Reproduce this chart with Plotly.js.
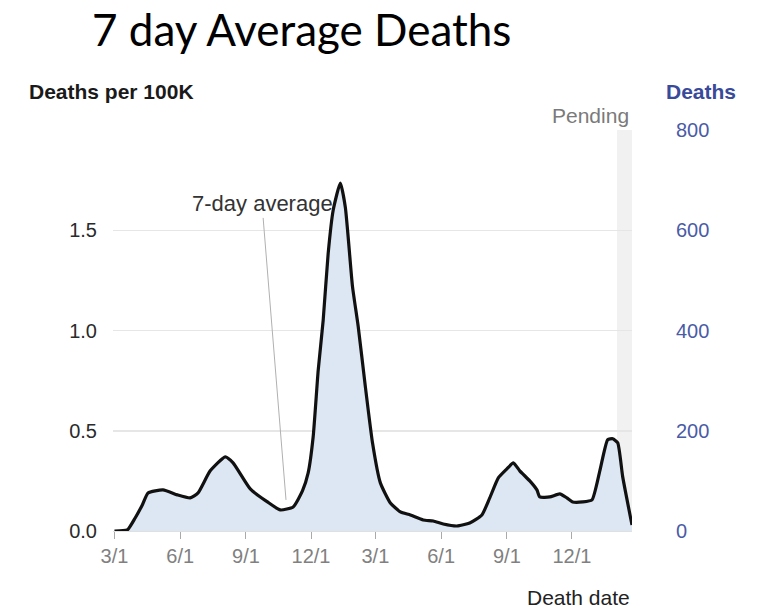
<!DOCTYPE html>
<html>
<head>
<meta charset="utf-8">
<script src="https://cdn.plot.ly/plotly-3.0.1.min.js"></script>
<style>html,body{margin:0;padding:0;background:#fff;}#chart{width:766px;height:608px;}</style>
</head>
<body>
<div id="chart"></div>
<script>
// 7-day average deaths per 100K
const dates = [
  "2020-03-01","2020-03-19","2020-03-30","2020-04-09","2020-04-17","2020-05-08","2020-05-28",
  "2020-06-15","2020-06-26","2020-07-13","2020-08-03","2020-08-14","2020-09-07","2020-10-01",
  "2020-10-19","2020-11-06","2020-11-19","2020-11-27","2020-12-04","2020-12-11","2020-12-18",
  "2020-12-25","2021-01-01","2021-01-11","2021-01-18","2021-01-28","2021-02-05","2021-02-15",
  "2021-02-25","2021-03-08","2021-03-22","2021-04-05","2021-04-19","2021-05-07","2021-05-21",
  "2021-06-04","2021-06-23","2021-07-11","2021-07-28","2021-08-08","2021-08-20","2021-09-01",
  "2021-09-10","2021-09-19","2021-10-03","2021-10-13","2021-10-17","2021-10-31","2021-11-14",
  "2021-11-24","2021-12-02","2021-12-16","2021-12-29","2022-01-09","2022-01-20","2022-01-27",
  "2022-02-03","2022-02-10","2022-02-23"
];
const avgPer100K = [
  0.0,0.005,0.065,0.13,0.19,0.205,0.18,
  0.165,0.19,0.30,0.37,0.34,0.21,0.145,
  0.105,0.12,0.20,0.29,0.47,0.80,1.05,
  1.385,1.60,1.735,1.615,1.22,1.02,0.72,
  0.44,0.24,0.14,0.095,0.08,0.055,0.05,
  0.035,0.025,0.04,0.08,0.165,0.265,0.31,
  0.34,0.30,0.25,0.205,0.17,0.17,0.185,
  0.165,0.145,0.145,0.155,0.30,0.455,0.46,
  0.44,0.27,0.03
];
const leftTicks = [0, 0.5, 1.0, 1.5];
const leftTickText = ["0.0", "0.5", "1.0", "1.5"];
const rightTicks = [0, 200, 400, 600, 800];
const xTickDates = ["2020-03-01","2020-06-01","2020-09-01","2020-12-01","2021-03-01","2021-06-01","2021-09-01","2021-12-01"];
const xTickText = ["3/1","6/1","9/1","12/1","3/1","6/1","9/1","12/1"];
const pendingStart = "2022-02-02";
const xRange = ["2020-02-28", "2022-02-23"];

const FONT = "Liberation Sans, Arial, sans-serif";

const traces = [
  {x: dates, y: avgPer100K, type: "scatter", mode: "lines", fill: "tozeroy",
   fillcolor: "#dce7f3", line: {width: 0, color: "#dce7f3", shape: "spline", smoothing: 0.5}, hoverinfo: "skip"},
  {x: dates, y: avgPer100K, type: "scatter", mode: "lines",
   line: {width: 3.2, color: "#111111", shape: "spline", smoothing: 0.5}},
  {x: [dates[0]], y: [0], yaxis: "y2", type: "scatter", mode: "markers",
   marker: {opacity: 0}, hoverinfo: "skip"}
];

const layout = {
  width: 766, height: 608,
  margin: {l: 113, r: 134, t: 130, b: 77},
  paper_bgcolor: "#ffffff", plot_bgcolor: "#ffffff",
  showlegend: false,
  font: {family: FONT, size: 20, color: "#333"},
  xaxis: {
    type: "date", range: xRange,
    tickvals: xTickDates, ticktext: xTickText,
    ticks: "outside", ticklen: 7, tickcolor: "#aaaaaa", tickwidth: 1,
    tickfont: {family: FONT, size: 20, color: "#808080"},
    showgrid: false, zeroline: false, showline: true, linecolor: "#e0e0e0", linewidth: 1
  },
  yaxis: {
    range: [0, 2.0], tickvals: leftTicks, ticktext: leftTickText,
    tickfont: {family: FONT, size: 20, color: "#2a2a2a"},
    showgrid: true, gridcolor: "#e6e6e6", gridwidth: 1.5,
    zeroline: false, showline: false, ticks: "", ticklabelstandoff: 15
  },
  yaxis2: {
    overlaying: "y", side: "right", range: [0, 800], tickvals: rightTicks,
    tickfont: {family: FONT, size: 20, color: "#4a5ba6"},
    showgrid: false, zeroline: false, showline: false, ticks: "", ticklabelstandoff: 43
  },
  shapes: [
    {type: "rect", xref: "x", yref: "paper", x0: pendingStart, x1: xRange[1], y0: 0, y1: 1,
     fillcolor: "#f1f1f1", line: {width: 0}, layer: "below"}
  ],
  annotations: [
    {text: "7 day Average Deaths", xref: "paper", yref: "paper", x: 0.364, y: 1.252,
     xanchor: "center", yanchor: "middle", showarrow: false,
     font: {family: "Lato, Open Sans, sans-serif", size: 44, color: "#000"}},
    {text: "<b>Deaths per 100K</b>", xref: "paper", yref: "paper", x: -0.1657, y: 1.0948,
     xanchor: "left", yanchor: "middle", showarrow: false,
     font: {family: FONT, size: 21, color: "#1a1a1a"}},
    {text: "<b>Deaths</b>", xref: "paper", yref: "paper", x: 1.2042, y: 1.0948,
     xanchor: "right", yanchor: "middle", showarrow: false,
     font: {family: FONT, size: 21, color: "#3a4a9a"}},
    {text: "Pending", xref: "paper", yref: "paper", x: 0.998, y: 1.035,
     xanchor: "right", yanchor: "middle", showarrow: false,
     font: {family: FONT, size: 21, color: "#7a7a7a"}},
    {text: "Death date", xref: "paper", yref: "paper", x: 1.0, y: -0.167,
     xanchor: "right", yanchor: "middle", showarrow: false,
     font: {family: FONT, size: 21, color: "#222"}},
    {text: "7-day average", xref: "x", yref: "y", x: "2020-10-27", y: 0.155,
     showarrow: true, arrowhead: 0, arrowwidth: 1, arrowcolor: "#b0b0b0", standoff: 0,
     ax: -24, ay: -296, font: {family: FONT, size: 22, color: "#333"}}
  ]
};

Plotly.newPlot("chart", traces, layout, {staticPlot: true, displayModeBar: false});
</script>
</body>
</html>
